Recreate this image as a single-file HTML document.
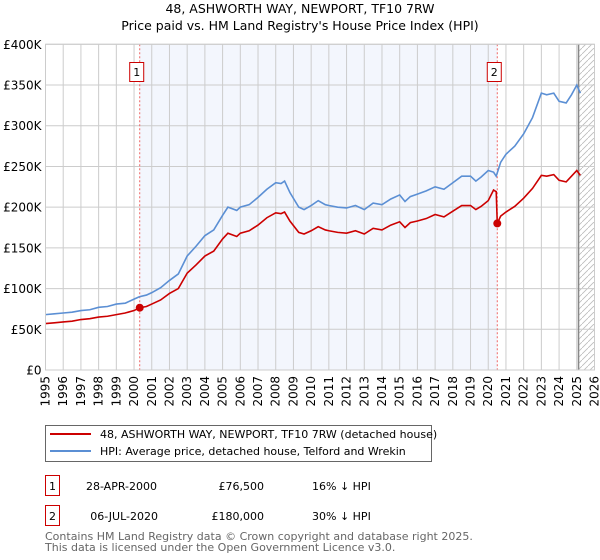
<!DOCTYPE html>
<html><head><meta charset="utf-8"><style>
body{margin:0;background:#fff;font-family:"DejaVu Sans","Liberation Sans",sans-serif;}
svg{display:block}
</style></head><body>
<svg id="c" width="600" height="560" xmlns="http://www.w3.org/2000/svg" font-family="DejaVu Sans, Liberation Sans, sans-serif">
<text x="300" y="13" font-size="12.5" text-anchor="middle" fill="#000">48, ASHWORTH WAY, NEWPORT, TF10 7RW</text>
<text x="300" y="30" font-size="12.5" text-anchor="middle" fill="#000">Price paid vs. HM Land Registry's House Price Index (HPI)</text>
<g id="plot"></g>
<g>
<rect x="45.5" y="425.5" width="386" height="36" fill="#fff" stroke="#666"/>
<line x1="50" y1="434" x2="91" y2="434" stroke="#cc0000" stroke-width="2"/>
<text x="100" y="438" font-size="11">48, ASHWORTH WAY, NEWPORT, TF10 7RW (detached house)</text>
<line x1="50" y1="451" x2="91" y2="451" stroke="#5b8fd4" stroke-width="2"/>
<text x="100" y="455" font-size="11">HPI: Average price, detached house, Telford and Wrekin</text>
</g>
<g font-size="11">
<rect x="45.5" y="475.5" width="14" height="20" fill="#fff" stroke="#cc0000"/>
<text x="52.5" y="490" text-anchor="middle">1</text>
<text x="157" y="490" text-anchor="end">28-APR-2000</text>
<text x="264" y="490" text-anchor="end">£76,500</text>
<text x="312" y="490">16% ↓ HPI</text>
<rect x="45.5" y="505.5" width="14" height="20" fill="#fff" stroke="#cc0000"/>
<text x="52.5" y="520" text-anchor="middle">2</text>
<text x="158" y="520" text-anchor="end">06-JUL-2020</text>
<text x="264" y="520" text-anchor="end">£180,000</text>
<text x="312" y="520">30% ↓ HPI</text>
</g>
<text x="45" y="540" font-size="11" fill="#666">Contains HM Land Registry data © Crown copyright and database right 2025.</text>
<text x="45" y="551" font-size="11" fill="#666">This data is licensed under the Open Government Licence v3.0.</text>
</svg>
<script>
const yearTicks=[1995,1996,1997,1998,1999,2000,2001,2002,2003,2004,2005,2006,2007,2008,2009,2010,2011,2012,2013,2014,2015,2016,2017,2018,2019,2020,2021,2022,2023,2024,2025,2026];
const valueTicks=[0,50000,100000,150000,200000,250000,300000,350000,400000];
const valueLabels=["£0","£50K","£100K","£150K","£200K","£250K","£300K","£350K","£400K"];
const hpiYears=[1995,1995.5,1996,1996.5,1997,1997.5,1998,1998.5,1999,1999.5,2000,2000.3,2000.7,2001,2001.5,2002,2002.5,2003,2003.5,2004,2004.5,2005,2005.3,2005.8,2006,2006.5,2007,2007.5,2008,2008.3,2008.5,2008.8,2009.3,2009.6,2010,2010.4,2010.8,2011,2011.5,2012,2012.5,2013,2013.5,2014,2014.5,2015,2015.3,2015.6,2016,2016.5,2017,2017.5,2018,2018.5,2019,2019.3,2019.6,2020,2020.3,2020.45,2020.7,2021,2021.5,2022,2022.5,2023,2023.3,2023.7,2024,2024.4,2024.7,2025,2025.2];
const hpiValues=[68000,69000,70000,71000,73000,74000,77000,78000,81000,82000,87000,90000,92000,95000,101000,110000,118000,140000,152000,165000,172000,190000,200000,196000,200000,203000,212000,222000,230000,229000,232000,218000,200000,197000,202000,208000,203000,202000,200000,199000,202000,197000,205000,203000,210000,215000,207000,213000,216000,220000,225000,222000,230000,238000,238000,232000,237000,245000,243000,238000,255000,265000,275000,290000,310000,340000,338000,340000,330000,328000,338000,350000,340000];
const ppYears=[1995,1995.5,1996,1996.5,1997,1997.5,1998,1998.5,1999,1999.5,2000,2000.32,2000.7,2001,2001.5,2002,2002.5,2003,2003.5,2004,2004.5,2005,2005.3,2005.8,2006,2006.5,2007,2007.5,2008,2008.3,2008.5,2008.8,2009.3,2009.6,2010,2010.4,2010.8,2011,2011.5,2012,2012.5,2013,2013.5,2014,2014.5,2015,2015.3,2015.6,2016,2016.5,2017,2017.5,2018,2018.5,2019,2019.3,2019.6,2020,2020.3,2020.45,2020.51,2020.7,2021,2021.5,2022,2022.5,2023,2023.3,2023.7,2024,2024.4,2024.7,2025,2025.2];
const ppValues=[57000,58000,59000,60000,62000,63000,65000,66000,68000,70000,73000,76500,78000,81000,86000,94000,100000,119000,129000,140000,146000,161000,168000,164000,168000,171000,178000,187000,193000,192000,194000,183000,169000,167000,171000,176000,172000,171000,169000,168000,171000,167000,174000,172000,178000,182000,175000,181000,183000,186000,191000,188000,195000,202000,202000,197000,201000,208000,221000,219000,180000,189000,194000,201000,211000,223000,239000,238000,240000,233000,231000,238000,245000,239000];
const sales=[{n:"1",year:2000.32,value:76500},{n:"2",year:2020.51,value:180000}];

const NS="http://www.w3.org/2000/svg";
const X0=45.5,X1=594.5,Y0=370,Y1=44.3;
const xs=y=>X0+(y-1995)/(2026-1995)*(X1-X0);
const ys=v=>Y0-v/400000*(Y0-Y1);
const g=document.getElementById('plot');
function mk(t,a,p){const e=document.createElementNS(NS,t);for(const k in a)e.setAttribute(k,a[k]);(p||g).appendChild(e);return e;}
// defs hatch
const defs=mk('defs',{});
const pat=mk('pattern',{id:'hatch',width:'6',height:'6',patternUnits:'userSpaceOnUse'},defs);
mk('path',{d:'M0,6 L6,0',stroke:'#bbb','stroke-width':'0.8'},pat);
const shade=mk('rect',{x:xs(sales[0].year),y:Y1,width:xs(sales[1].year)-xs(sales[0].year),height:Y0-Y1,fill:'#eef2fc',opacity:'0.7'});


const hatch=mk('rect',{x:xs(2025.1),y:Y1,width:X1-xs(2025.1),height:Y0-Y1,fill:'url(#hatch)'});


yearTicks.forEach(yr=>{
  const l=mk('line',{x1:xs(yr),x2:xs(yr),y1:Y1,y2:Y0,stroke:'#ccc','stroke-width':'1'});
  
  
  const t=mk('text',{x:0,y:0,'font-size':'12',fill:'#000','text-anchor':'end',transform:`translate(${xs(yr)+4},${Y0+6}) rotate(-90)`});
  t.textContent=yr;
  
  
});
valueTicks.forEach((v,i)=>{
  const l=mk('line',{x1:X0,x2:X1,y1:ys(v),y2:ys(v),stroke:'#ccc','stroke-width':'1'});
  
  
  const t=mk('text',{x:X0-4,y:ys(v)+4.5,'font-size':'12',fill:'#000','text-anchor':'end'});
  t.textContent=valueLabels[i];
  
  
});
const endLine=mk('line',{x1:xs(2025.1),x2:xs(2025.1),y1:Y1,y2:Y0,stroke:'#888','stroke-width':'1.5'});


sales.forEach(s=>{
  const l=mk('line',{x1:xs(s.year),x2:xs(s.year),y1:Y1,y2:Y0,stroke:'#e66','stroke-width':'1','stroke-dasharray':'2,2'});
  
  
  const bx=xs(s.year)-7-3;
  const b=mk('rect',{x:bx,y:62.5,width:14,height:19,fill:'#fff',stroke:'#cc0000'});
  
  
  const t=mk('text',{x:bx+7,y:76,'font-size':'11','text-anchor':'middle'});
  t.textContent=s.n;
  
  
});
const hpi=mk('polyline',{points:hpiYears.map((y,i)=>xs(y)+','+ys(hpiValues[i])).join(' '),fill:'none',stroke:'#5b8fd4','stroke-width':'1.6'});


const pp=mk('polyline',{points:ppYears.map((y,i)=>xs(y)+','+ys(ppValues[i])).join(' '),fill:'none',stroke:'#cc0000','stroke-width':'1.6'});


sales.forEach(s=>{
  const c=mk('circle',{cx:xs(s.year),cy:ys(s.value),r:4,fill:'#cc0000'});
  
  
});
const frame=mk('rect',{x:X0,y:Y1,width:X1-X0,height:Y0-Y1,fill:'none',stroke:'#ccc'});


</script>
</body></html>
